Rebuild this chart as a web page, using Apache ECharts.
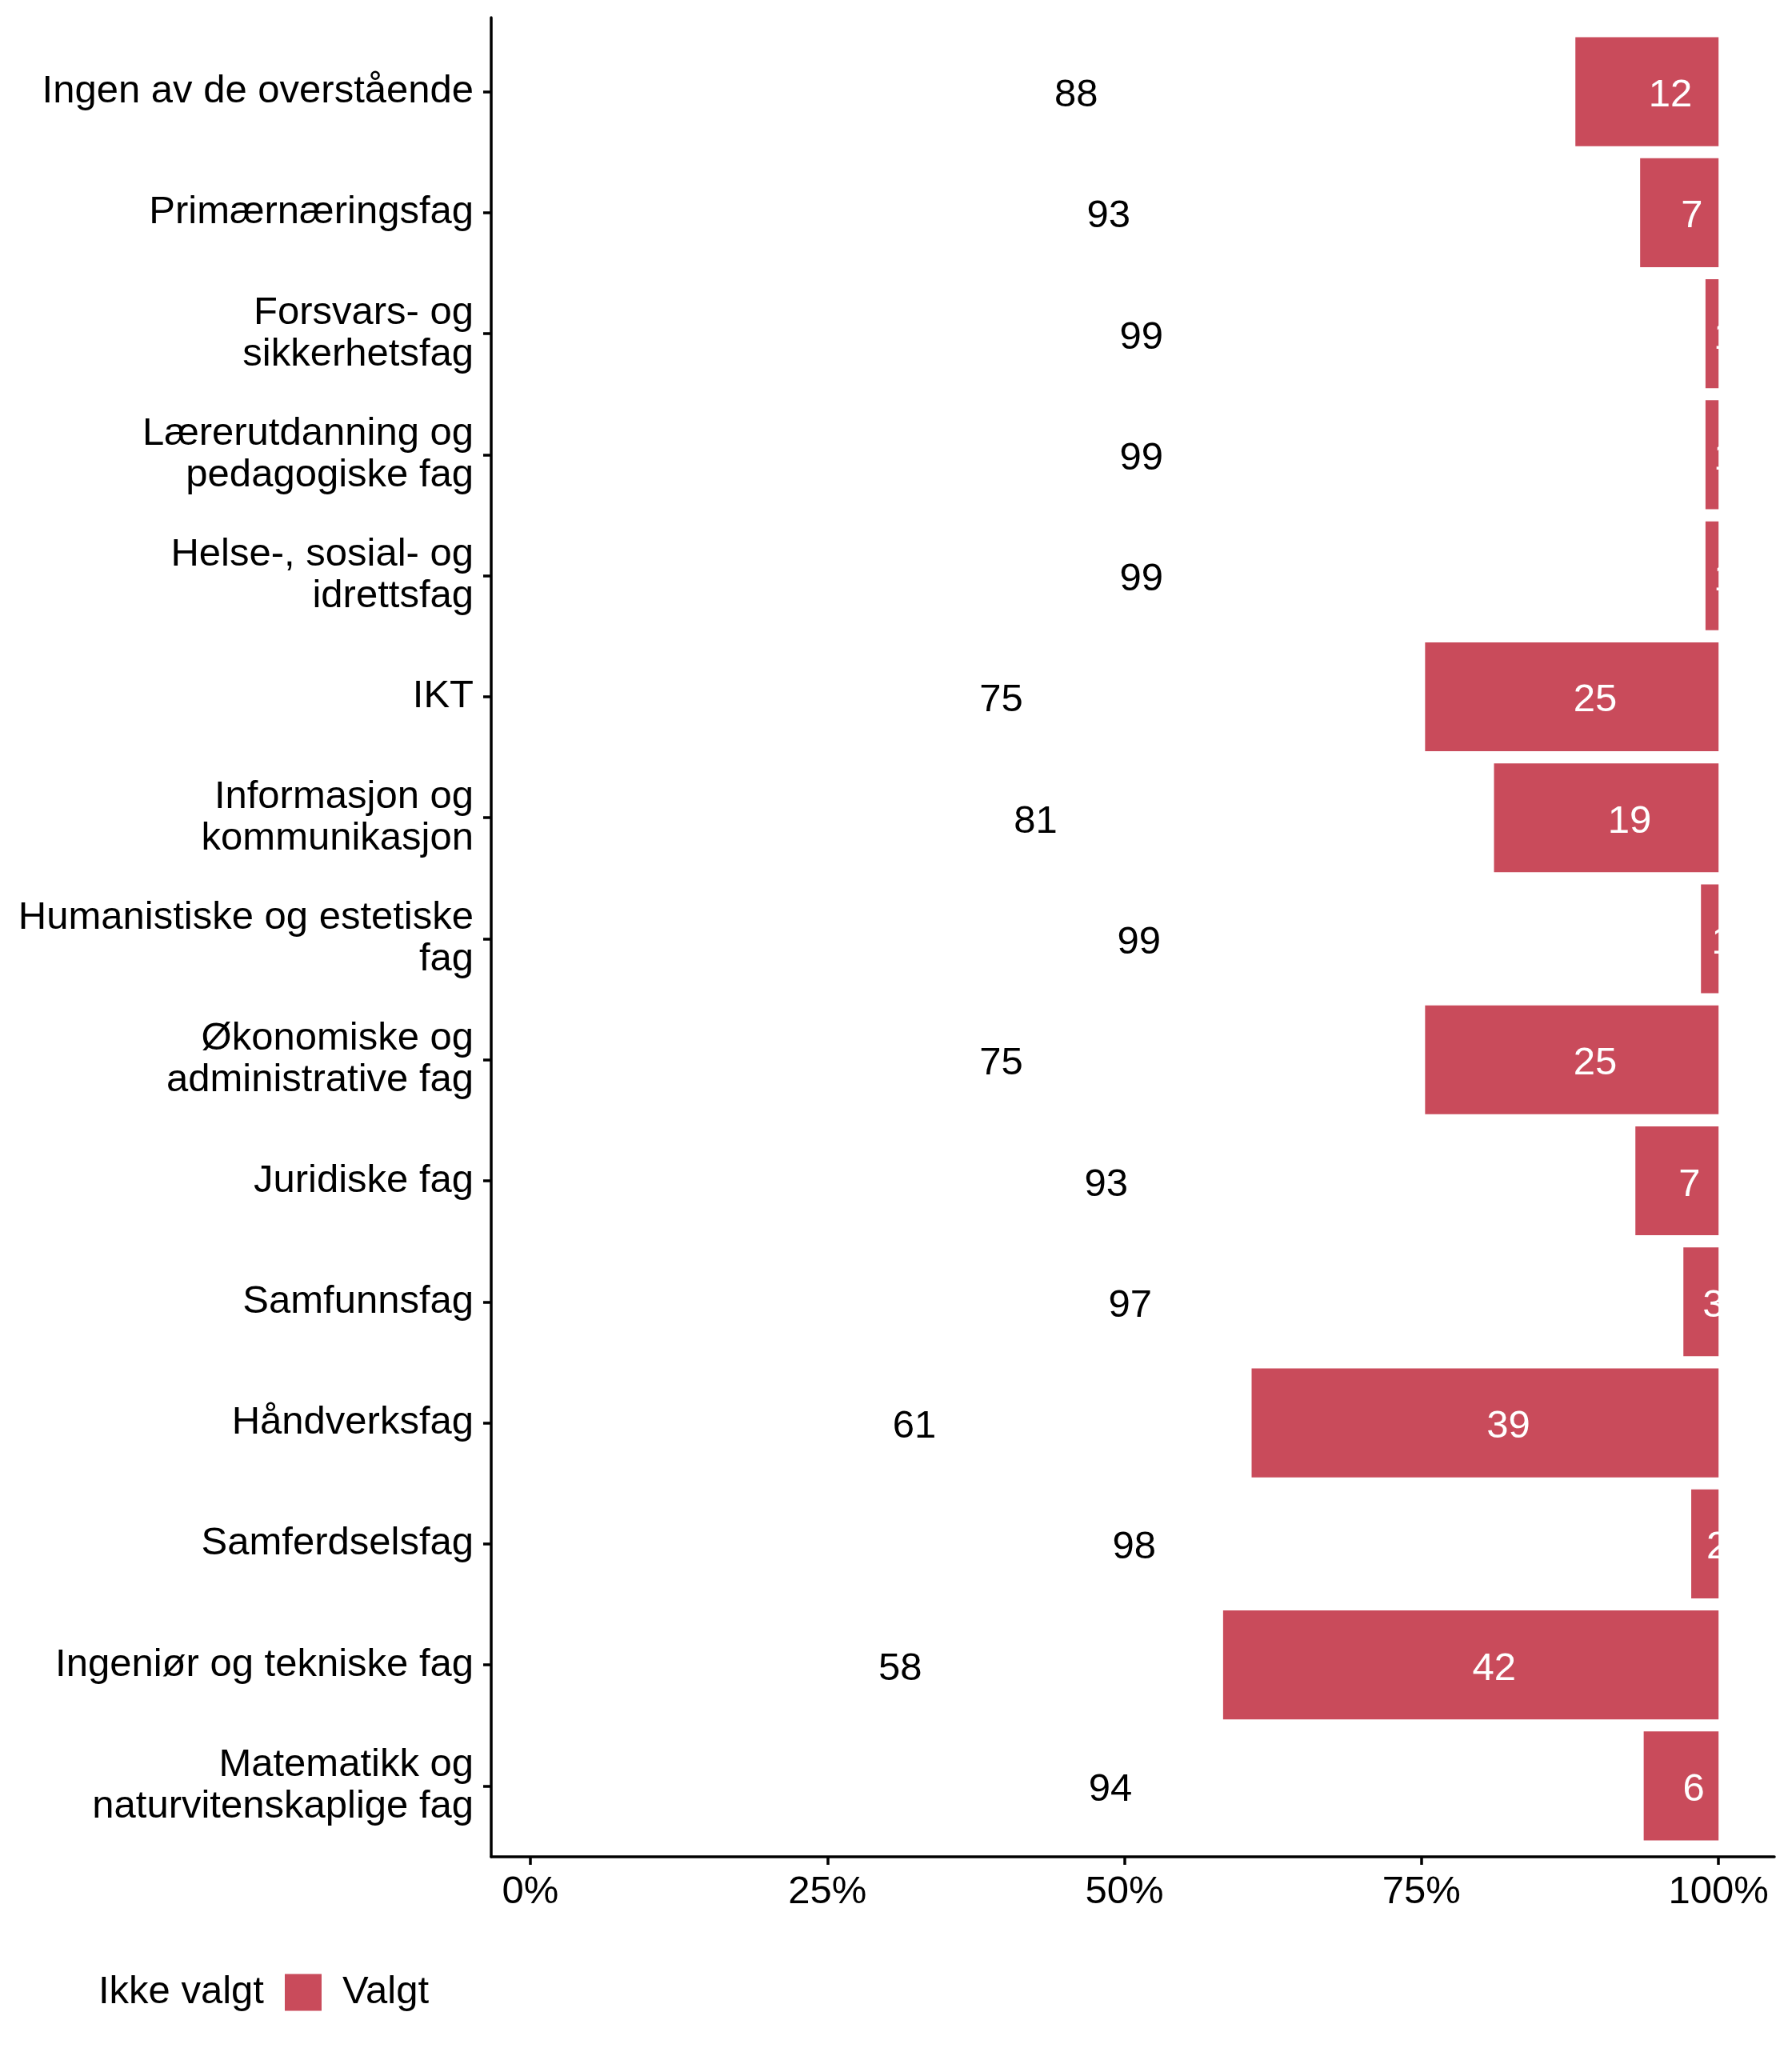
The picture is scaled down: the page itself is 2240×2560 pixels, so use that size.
<!DOCTYPE html>
<html>
<head>
<meta charset="utf-8">
<script src="https://cdn.jsdelivr.net/npm/echarts@6/dist/echarts.min.js"></script>
<style>
html,body{margin:0;padding:0;background:#fff;}
#c{width:2240px;height:2560px;}
</style>
</head>
<body>
<div id="c"></div>
<script>
const categories = [
  "Ingen av de overstående",
  "Primærnæringsfag",
  "Forsvars- og\nsikkerhetsfag",
  "Lærerutdanning og\npedagogiske fag",
  "Helse-, sosial- og\nidrettsfag",
  "IKT",
  "Informasjon og\nkommunikasjon",
  "Humanistiske og estetiske\nfag",
  "Økonomiske og\nadministrative fag",
  "Juridiske fag",
  "Samfunnsfag",
  "Håndverksfag",
  "Samferdselsfag",
  "Ingeniør og tekniske fag",
  "Matematikk og\nnaturvitenskaplige fag"
];
const ikkeValgt = [87.95, 93.4, 98.9, 98.9, 98.9, 75.3, 81.1, 98.52, 75.3, 93.0, 97.04, 60.7, 97.7, 58.3, 93.7];
const valgt     = [12.05, 6.6, 1.1, 1.1, 1.1, 24.7, 18.9, 1.48, 24.7, 7.0, 2.96, 39.3, 2.3, 41.7, 6.3];
const tickValues = [0, 25, 50, 75, 100];
const seriesNames = ["Ikke valgt", "Valgt"];

const FONT = "'Liberation Sans', Arial, sans-serif";
const RED = "#C94B5B";
const X_MIN = -3.3, X_MAX = 104.7;

const chart = echarts.init(document.getElementById('c'), null, {renderer: 'canvas'});
chart.setOption({
  backgroundColor: '#ffffff',
  animation: false,
  textStyle: {fontFamily: FONT},
  grid: [
    {left: 614, top: 39, width: 1604, height: 2269, containLabel: false},
    {left: 614, top: 22, width: 1604, height: 2299, containLabel: false}
  ],
  legend: {
    data: seriesNames,
    left: 46, top: 2461,
    itemWidth: 46, itemHeight: 46, itemGap: 26,
    icon: 'rect',
    textStyle: {fontSize: 49, color: '#000', fontFamily: FONT, padding: [0, 0, 0, 21]}
  },
  xAxis: [
    {gridIndex: 0, type: 'value', min: X_MIN, max: X_MAX, show: false},
    {gridIndex: 1, type: 'value', min: X_MIN, max: X_MAX,
     axisLine: {show: true, onZero: false, lineStyle: {color: '#000', width: 3.5}},
     axisTick: {show: true, length: 10, lineStyle: {color: '#000', width: 3.5}, customValues: tickValues},
     axisLabel: {show: true, customValues: tickValues, formatter: v => v + '%', fontSize: 49, color: '#000', margin: 20, fontFamily: FONT},
     splitLine: {show: false}}
  ],
  yAxis: [
    {gridIndex: 0, type: 'category', data: categories, inverse: true,
     axisLine: {show: false, onZero: false},
     axisTick: {show: true, alignWithLabel: true, length: 10, lineStyle: {color: '#000', width: 3.5}},
     axisLabel: {fontSize: 49, color: '#000', margin: 22, lineHeight: 52, align: 'right', fontFamily: FONT, padding: [20, 0, 0, 0]},
     splitLine: {show: false}},
    {gridIndex: 1, type: 'value', min: 0, max: 1,
     axisLine: {show: true, onZero: false, lineStyle: {color: '#000', width: 3.5}},
     axisTick: {show: false}, axisLabel: {show: false}, splitLine: {show: false}}
  ],
  series: [
    {name: seriesNames[0], type: 'bar', stack: 'a', xAxisIndex: 0, yAxisIndex: 0,
     data: ikkeValgt, barCategoryGap: '10%',
     itemStyle: {color: 'rgba(255,255,255,0)'},
     label: {show: true, position: 'inside', align: 'left', offset: [2, 5], color: '#000', fontSize: 49, fontFamily: FONT,
             formatter: p => Math.round(p.value)}},
    {name: seriesNames[1], type: 'bar', stack: 'a', xAxisIndex: 0, yAxisIndex: 0,
     data: valgt, barCategoryGap: '10%',
     itemStyle: {color: RED},
     label: {show: true, position: 'inside', align: 'left', offset: [2, 5], color: '#fff', fontSize: 49, fontFamily: FONT,
             formatter: p => Math.round(p.value)}}
  ]
});
</script>
</body>
</html>
